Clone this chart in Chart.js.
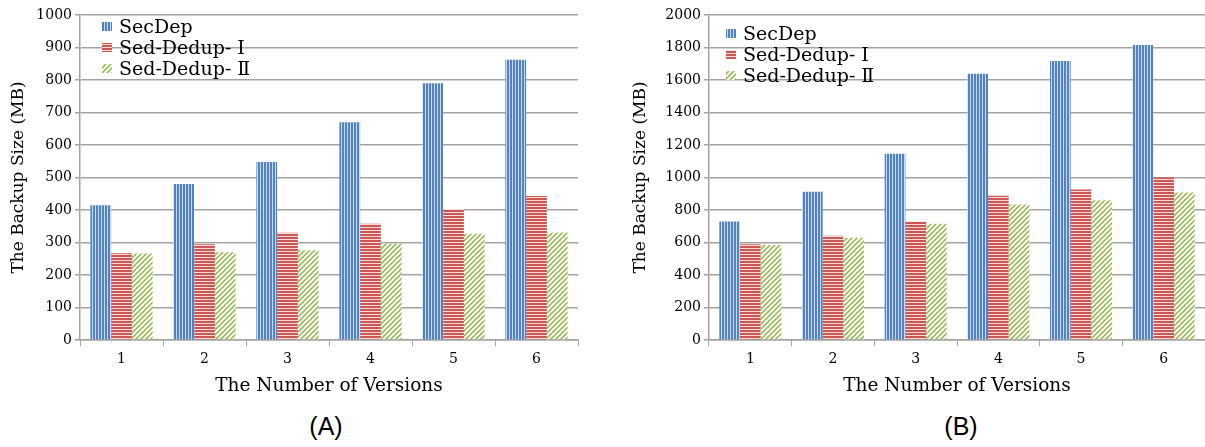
<!DOCTYPE html>
<html>
<head>
<meta charset="utf-8">
<script src="https://cdn.jsdelivr.net/npm/chart.js@4.4.1/dist/chart.umd.min.js"></script>
<style>
  html, body { margin: 0; padding: 0; background: #fff; }
  body { width: 1205px; height: 447px; position: relative; overflow: hidden; }
  canvas { position: absolute; top: 0; }
  #cA { left: 0; }
  #cB { left: 620px; }
  .tag { position: absolute; top: 412px; font-family: "Liberation Sans", Arial, sans-serif; font-size: 25px; color: #000; transform: translateX(-50%); }
</style>
</head>
<body>
<canvas id="cA" width="600" height="400"></canvas>
<canvas id="cB" width="585" height="400"></canvas>
<div class="tag" style="left:326px">(A)</div>
<div class="tag" style="left:961px">(B)</div>
<script>
// Number of backup versions
const versions = ['1', '2', '3', '4', '5', '6'];
const seriesNames = ['SecDep', 'Sed-Dedup- \u2160', 'Sed-Dedup- \u2161'];

// (A) backup size in MB
const secDepA = [415, 480, 548, 670, 790, 862];
const sedDedup1A = [267, 295, 330, 358, 403, 443];
const sedDedup2A = [266, 270, 276, 296, 327, 331];
const yTicksA = { max: 1000, step: 100 };

// (B) backup size in MB
const secDepB = [730, 912, 1146, 1638, 1717, 1815];
const sedDedup1B = [590, 641, 730, 888, 926, 1000];
const sedDedup2B = [585, 630, 716, 834, 860, 908];
const yTicksB = { max: 2000, step: 200 };

const serifFont = '"DejaVu Serif", "Liberation Serif", serif';

// Hatch fills
function makePattern(draw, w, h) {
  const c = document.createElement('canvas');
  c.width = w; c.height = h;
  const g = c.getContext('2d');
  draw(g, w, h);
  return g.createPattern(c, 'repeat');
}
const bluePattern = makePattern((g, w, h) => {
  g.fillStyle = '#c9dbf0'; g.fillRect(0, 0, w, h);
  g.fillStyle = '#5382c0'; g.fillRect(0, 0, 2, h);
}, 3, 3);
const redPattern = makePattern((g, w, h) => {
  g.fillStyle = '#f5dcdb'; g.fillRect(0, 0, w, h);
  g.fillStyle = '#cc5653'; g.fillRect(0, 0, w, 2);
}, 3, 3);
const greenPattern = makePattern((g, w, h) => {
  g.fillStyle = '#ffffff'; g.fillRect(0, 0, w, h);
  g.strokeStyle = '#9bbb59'; g.lineWidth = 1.6;
  g.beginPath();
  g.moveTo(-1, h + 1); g.lineTo(w + 1, -1);
  g.moveTo(-1, 1); g.lineTo(1, -1);
  g.moveTo(w - 1, h + 1); g.lineTo(w + 1, h - 1);
  g.stroke();
}, 5, 5);
const fills = [bluePattern, redPattern, greenPattern];

// Legend drawn inside the plot area, upper left
const insideLegend = {
  id: 'insideLegend',
  afterDraw(chart, args, opts) {
    const { ctx, chartArea } = chart;
    ctx.save();
    ctx.font = '19px ' + serifFont;
    ctx.textBaseline = 'middle';
    ctx.textAlign = 'left';
    chart.data.datasets.forEach((ds, i) => {
      const y = chartArea.top + opts.top + i * opts.rowGap;
      ctx.fillStyle = ds.backgroundColor;
      ctx.fillRect(chartArea.left + opts.markX, y - 5, 10, 9);
      ctx.fillStyle = '#000';
      ctx.fillText(ds.label, chartArea.left + opts.textX, y + 1);
    });
    ctx.restore();
  }
};

const gridGray = '#a3a3a3';
const tickFont = { family: serifFont, size: 14 };

function buildChart(id, values, yt, opts) {
  const datasets = values.map((v, i) => ({
    label: seriesNames[i],
    data: v,
    backgroundColor: fills[i],
    borderWidth: 0,
    barPercentage: 1.0,
    categoryPercentage: 0.75
  }));
  return new Chart(document.getElementById(id), {
    type: 'bar',
    data: { labels: versions, datasets },
    plugins: [insideLegend],
    options: {
      responsive: false,
      animation: false,
      devicePixelRatio: 1,
      layout: { padding: { left: 0, right: opts.padRight, top: 15, bottom: 0 } },
      plugins: {
        legend: { display: false },
        tooltip: { enabled: false },
        insideLegend: opts.legend
      },
      scales: {
        x: {
          grid: { offset: true, drawOnChartArea: false, drawTicks: true, tickLength: 6, color: gridGray, lineWidth: 1 },
          border: { color: gridGray, width: 1.5 },
          ticks: { font: tickFont, color: '#000', padding: 5, maxRotation: 0 },
          title: {
            display: true,
            text: 'The Number of Versions',
            font: { family: serifFont, size: 18.5 },
            color: '#000',
            padding: { top: 3, bottom: 3 }
          },
          afterFit(s) { s.height = 60; }
        },
        y: {
          min: 0,
          max: yt.max,
          grid: { color: gridGray, lineWidth: 1.5, tickLength: 5 },
          border: { color: gridGray, width: 1.5 },
          ticks: {
            stepSize: yt.step, font: tickFont, color: '#000', padding: 3,
            callback: (v) => String(v)
          },
          title: {
            display: true,
            text: 'The Backup Size (MB)',
            font: { family: serifFont, size: 17 },
            color: '#000',
            padding: { top: opts.titlePad, bottom: 0 }
          },
          afterFit(s) { s.width = opts.yWidth; }
        }
      }
    }
  });
}

buildChart('cA', [secDepA, sedDedup1A, sedDedup2A], yTicksA, {
  padRight: 22, yWidth: 80, titlePad: 8,
  legend: { top: 12, rowGap: 21, markX: 22, textX: 39 }
});
buildChart('cB', [secDepB, sedDedup1B, sedDedup2B], yTicksB, {
  padRight: 0, yWidth: 89, titlePad: 10,
  legend: { top: 19, rowGap: 21, markX: 17, textX: 34 }
});
</script>
</body>
</html>
